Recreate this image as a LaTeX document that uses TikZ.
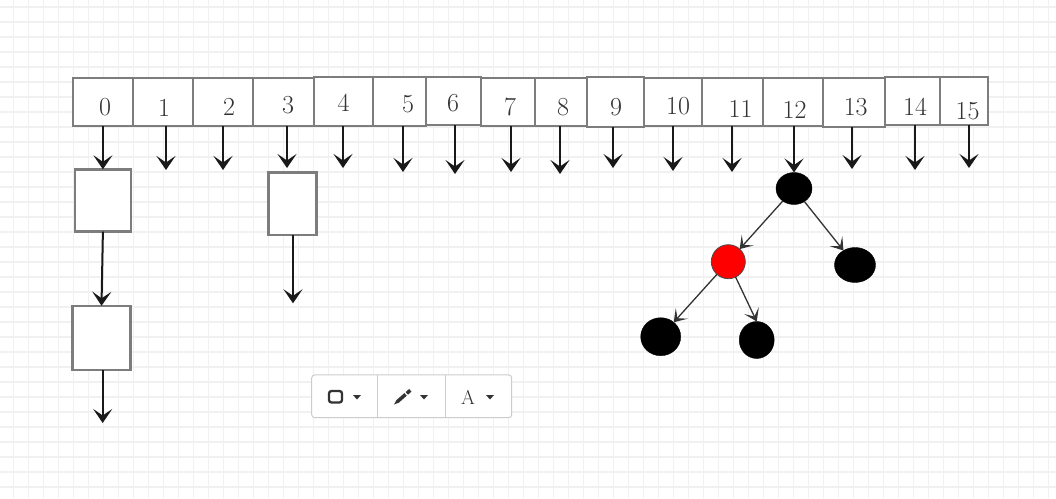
\documentclass[tikz,border=0pt]{standalone}
\usepackage{fontspec}
\usetikzlibrary{arrows.meta,shapes.geometric}
\definecolor{gridc}{RGB}{241,241,241}
\definecolor{cellc}{RGB}{125,125,125}
\definecolor{tbc}{RGB}{204,204,204}
\definecolor{icon}{RGB}{51,51,51}
\begin{document}
\begin{tikzpicture}[x=1pt,y=-1pt,
 cell/.style={draw=cellc, line width=2.5pt, minimum height=48pt, inner sep=0pt, outer sep=0pt, fill=white},
 lab/.style={font=\fontsize{26}{26}\selectfont, text=black!80, inner sep=0pt},
 box/.style={draw=cellc, line width=2.5pt, fill=white, inner sep=0pt, outer sep=0pt},
 arr/.style={draw=black!90, line width=2pt, -{Stealth[length=14pt,width=19pt,inset=6.5pt]}},
 tarr/.style={draw=black!80, line width=1.3pt, -{Stealth[length=12pt,width=16pt,inset=6.5pt]}},
 blk/.style={ellipse, fill=black, draw=black, inner sep=0pt, outer sep=0pt}]
\useasboundingbox (0,0) rectangle (1056,498);
\fill[white] (0,0) rectangle (1056,498);
\begin{scope}
\clip (0,0) rectangle (1056,498);
\foreach \k in {0,...,70} \draw[gridc, line width=1.6pt] ({13.3+15*\k},0) -- ++(0,498);
\foreach \k in {0,...,33} \draw[gridc, line width=1.6pt] (0,{6.7+15*\k}) -- ++(1056,0);
\end{scope}
% array cells
\foreach \i/\l/\r/\t/\b/\lx/\ly in {
 0/73/133/78/126/105/107, 1/133/193/78/126/164/107.5, 2/193/253/78/126/229/107,
 3/253/314/78/126/288/105, 4/314/373/77/126/343.7/103.3, 5/373/426/77/126/408/104,
 6/426/481/77/125/453/103, 7/481/535/78/126/510/107, 8/535/587/78/126/563/106.7,
 9/587/644/77/127/616/106.7, 10/644/702/78/126/678/105.8, 11/702/763/78/126/740.5/108.7,
 12/763/823/78/126/794.5/110, 13/823/885/78/127/855.7/107.5, 14/885/940/77/125/915/106.5,
 15/940/988/77/125/967.5/111}{
 \node[cell, minimum width={\r-\l}, minimum height={\b-\t}] (c\i) at ({(\l+\r)/2},{(\t+\b)/2}) {};
 \node[lab] (l\i) at (\lx,\ly) {\i};
}
% simple arrows from cells
\foreach \i/\ax/\ty in {1/166/170, 2/223/170, 4/343/168, 5/403/172, 6/455/174,
 7/511/172, 8/560/174, 9/613/168, 10/673/171, 11/732/172, 13/852/169, 14/915/170, 15/969/168}{
 \coordinate (t\i) at (\ax,\ty);
 \draw[arr] (c\i.south -| t\i) -- (t\i);
}
% boxes
\node[box, minimum width=55.7pt, minimum height=62.4pt] (b1) at (102.9,200.5) {};
\node[box, minimum width=58.4pt, minimum height=64.3pt] (b2) at (101.5,337.9) {};
\node[box, minimum width=48.4pt, minimum height=62.7pt] (b3) at (292.5,203.7) {};
\coordinate (t3) at (287,168);
\draw[arr] (c3.south -| t3) -- (t3);
\draw[arr] (c0.south -| b1.north) -- (b1.north);
\draw[arr] (b1.south) -- (b2.north);
\coordinate (e2) at (102.7,423);
\draw[arr] (b2.south -| e2) -- (e2);
\coordinate (e3) at (293,303.3);
\draw[arr] (b3.south -| e3) -- (e3);
% tree
\node[blk, minimum width=36pt, minimum height=32pt] (r) at (794,188.5) {};
\node[circle, fill=red, draw=black!70, line width=0.8pt, minimum size=34pt, inner sep=0pt, outer sep=0pt] (rd) at (728.3,261.7) {};
\node[blk, minimum width=41pt, minimum height=35pt] (rr) at (855,265) {};
\node[blk, minimum width=40pt, minimum height=38pt] (ll) at (660.7,336.7) {};
\node[blk, minimum width=35pt, minimum height=37pt] (lr) at (756.7,340) {};
\draw[arr] (c12.south -| r.north) -- (r.north);
\draw[tarr] (r) -- (rd);
\draw[tarr] (r) -- (rr);
\draw[tarr] (rd) -- (ll);
\draw[tarr] (rd) -- (lr.north);
% toolbar
\node[draw=tbc, line width=1pt, rounded corners=3pt, fill=white, minimum width=200pt, minimum height=42.7pt, inner sep=0pt] (tb) at (411.7,396.3) {};
\draw[tbc, line width=1pt] (377.7,375) -- (377.7,417.7);
\draw[tbc, line width=1pt] (445,375) -- (445,417.7);
\draw[icon, line width=2.3pt, rounded corners=2.5pt] (329,391) rectangle (342,402.5);
\fill[icon] (353,395) -- (361,395) -- (357,399.5) -- cycle;
\fill[icon] (394,404.5) -- (398.9,402.6) -- (396.6,399.9) -- cycle;
\draw[icon, line width=3.5pt] (397.6,401.4) -- (405.6,394.4);
\draw[icon, line width=3.5pt] (406.8,393.4) -- (410.3,390.3);
\fill[icon] (420,395) -- (428,395) -- (424,399.5) -- cycle;
\node[font=\fontsize{20}{20}\selectfont, text=icon, inner sep=0pt] (ta) at (468,397) {A};
\fill[icon] (486,395) -- (494,395) -- (490,399.5) -- cycle;
\end{tikzpicture}
\end{document}
